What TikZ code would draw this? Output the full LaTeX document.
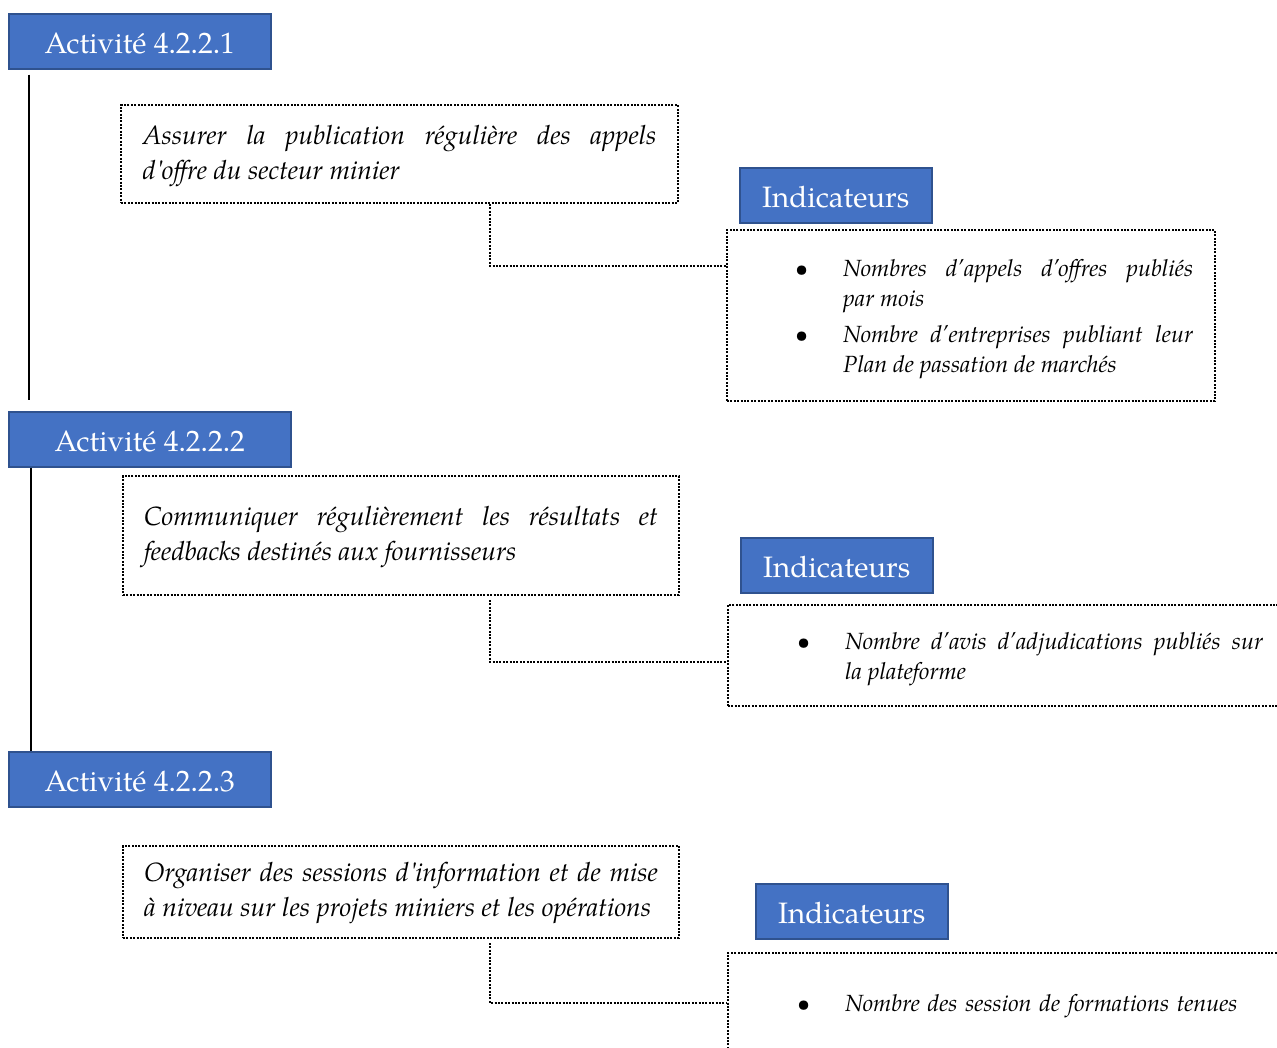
\documentclass[tikz,border=0pt]{standalone}
\usepackage{fontspec}
\setmainfont{TeX Gyre Pagella}
\usetikzlibrary{calc}
\definecolor{hdrblue}{HTML}{4472C4}
\definecolor{hdredge}{HTML}{2F528F}
\newcommand{\inditem}[1]{\par\noindent\hangindent=48pt\hangafter=1\makebox[48pt][l]{\hspace{0pt}\textbullet}#1\par}
\newcommand{\nohyph}{\hyphenpenalty=10000\exhyphenpenalty=10000\hbadness=10000}
\begin{document}
\begin{tikzpicture}[x=1pt,y=-1pt,
 hdr/.style={draw=hdredge, line width=1.5pt, fill=hdrblue, text=white, font=\fontsize{29.5}{34}\selectfont, anchor=north west, inner sep=0pt, minimum height=55pt, text height=25pt, text depth=0pt},
 dotbox/.style={draw, line width=2pt, dash pattern=on 2pt off 1.4pt, anchor=north west, inner sep=0pt},
 dots/.style={line width=2pt, dash pattern=on 2pt off 1.4pt},
 acttxt/.style={font=\fontsize{26.4}{35}\selectfont\itshape\nohyph, text width=514pt, align=justify, inner sep=0pt},
 indtxt/.style={font=\fontsize{23.4}{30}\selectfont\itshape\nohyph, align=justify, inner sep=0pt, anchor=west}]
\useasboundingbox (0,0) rectangle (1277,1047);
\clip (0,0) rectangle (1277,1047);

% Activity headers
\node[hdr, minimum width=262pt] (act1) at (8,13) {Activité 4.2.2.1};
\node[hdr, minimum width=282pt] (act2) at (8,411) {Activité 4.2.2.2};
\node[hdr, minimum width=262pt] (act3) at (8,751) {Activité 4.2.2.3};

% vertical lines
\draw[line width=2pt] ($(act1.south west)+(21,5)$) -- ($(act2.north west)+(21,-11)$);
\draw[line width=2pt] ($(act2.south west)+(23,0)$) -- ($(act3.north west)+(23,0)$);

% activity description boxes
\node[dotbox, minimum width=557pt, minimum height=98pt] (box1) at (120,104) {};
\node[acttxt] (box1t) at ($(box1.center)+(0,2)$) {Assurer la publication régulière des appels\linebreak d\textquotesingle offre du secteur minier};

\node[dotbox, minimum width=556pt, minimum height=119pt] (box2) at (122,475) {};
\node[acttxt] (box2t) at ($(box2.center)+(0,1)$) {Communiquer régulièrement les résultats et\linebreak feedbacks destinés aux fournisseurs};

\node[dotbox, minimum width=556pt, minimum height=92pt] (box3) at (122,845) {};
\node[acttxt] (box3t) at ($(box3.center)+(0,1)$) {Organiser des sessions d\textquotesingle information et de mise\linebreak à niveau sur les projets miniers et les opérations};

% Indicator headers
\node[hdr, minimum width=192pt] (ih1) at (739,167) {Indicateurs};
\node[hdr, minimum width=192pt] (ih2) at (740,537) {Indicateurs};
\node[hdr, minimum width=192pt] (ih3) at (755,883) {Indicateurs};

% Indicator boxes
\node[dotbox, minimum width=488pt, minimum height=171pt] (ind1) at (726,229) {};
\node[dotbox, minimum width=580pt, minimum height=101pt] (ind2) at (727,604) {};
\node[dotbox, minimum width=580pt, minimum height=130pt] (ind3) at (727,952) {};

\node[indtxt, text width=398pt] (ind1t) at ($(ind1.west)+(69,-6)$) {\setlength{\parskip}{6pt}%
\inditem{Nombres d’appels d’offres publiés\linebreak par mois}%
\inditem{Nombre d’entreprises publiant leur\linebreak Plan de passation de marchés}};
\node[indtxt, text width=466pt] (ind2t) at ($(ind2.west)+(70,-3)$) {%
\inditem{Nombre d’avis d’adjudications publiés sur\linebreak la plateforme}};
\node[indtxt, text width=466pt, align=left] (ind3t) at ($(ind3.north west)+(70,48)$) {%
\inditem{Nombre des session de formations tenues}};

% connectors
\draw[dots] ($(box1.south west)+(370,0)$) |- ($(ind1.north west)+(0,37)$);
\draw[dots] ($(box2.south west)+(368,4)$) |- ($(ind2.north west)+(0,58)$);
\draw[dots] ($(box3.south west)+(368,4)$) |- ($(ind3.north west)+(0,51)$);
\end{tikzpicture}
\end{document}
